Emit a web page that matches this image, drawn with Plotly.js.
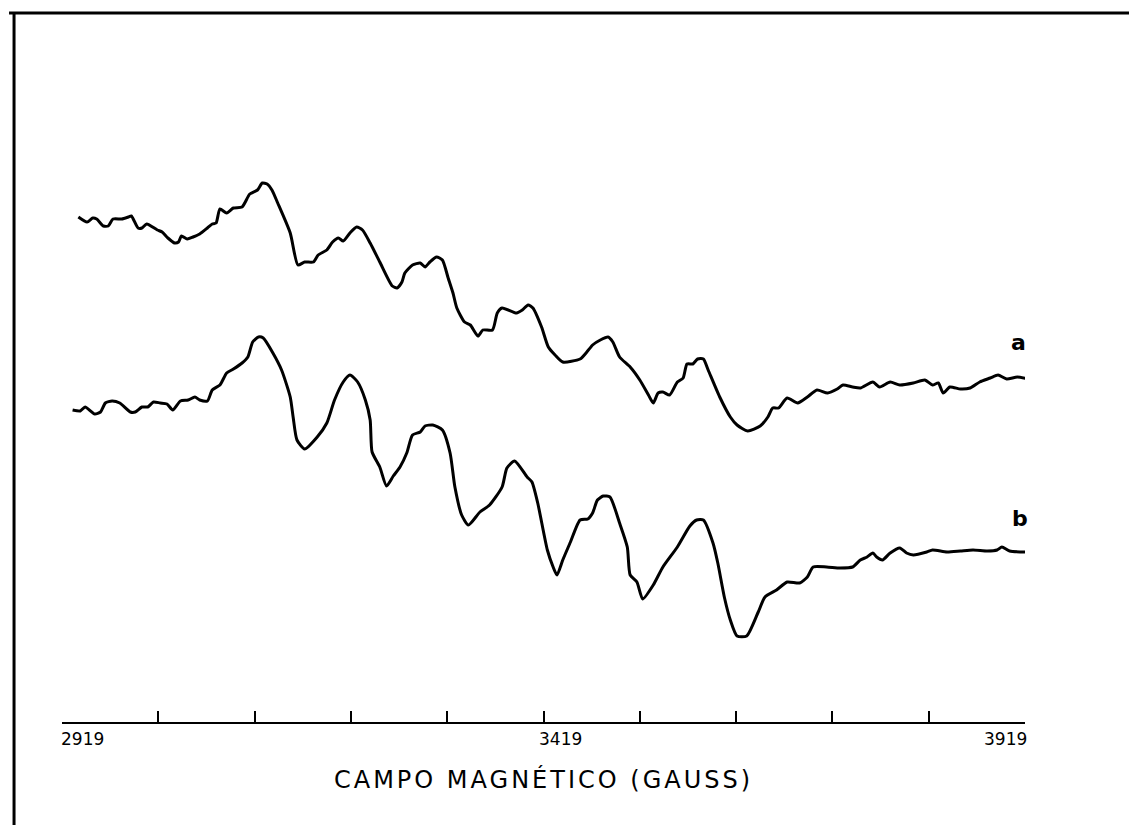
<!DOCTYPE html>
<html>
<head>
<meta charset="utf-8">
<script src="https://cdn.plot.ly/plotly-3.0.1.min.js"></script>
<style>
  html, body { margin: 0; padding: 0; background: #fff; }
  #chart { width: 1129px; height: 825px; }
  .xtitle { letter-spacing: 3px; }
</style>
</head>
<body>
<div id="chart"></div>
<script>
// Magnetic field (gauss) and first-derivative EPR signal (arbitrary units, stacked)
const fieldA = [2936,2945,2951,2955,2962,2967,2972,2981,2988,2991,2998,3002,3007,3018,3023,3029,3036,3040,3043,3049,3055,3062,3070,3075,3079,3083,3090,3097,3106,3114,3122,3127,3132,3137,3143,3156,3164,3171,3180,3185,3194,3200,3206,3211,3218,3225,3231,3239,3249,3262,3267,3272,3275,3283,3291,3296,3301,3308,3314,3320,3325,3329,3337,3343,3351,3356,3366,3371,3376,3391,3397,3403,3408,3417,3424,3431,3439,3457,3464,3470,3478,3486,3491,3498,3509,3519,3528,3533,3538,3543,3550,3558,3564,3568,3574,3579,3585,3590,3602,3613,3620,3631,3644,3652,3657,3663,3672,3683,3693,3703,3714,3724,3730,3740,3748,3761,3768,3779,3789,3803,3815,3823,3829,3834,3841,3852,3862,3872,3883,3891,3900,3911,3922];
const signalA = [503,498,502,501,494,494,501,501,503,504,492,492,496,490,488,482,477,478,484,481,483,486,492,496,497,511,507,512,513,526,530,537,536,530,517,487,455,458,458,465,470,478,482,479,487,493,490,477,458,434,432,438,447,455,457,453,458,463,460,442,427,412,398,395,384,390,390,407,412,407,410,415,412,393,373,365,358,361,368,375,380,383,378,363,353,340,325,317,327,328,325,338,342,356,356,361,361,350,323,303,295,289,294,303,312,312,322,317,323,330,327,331,335,333,332,338,333,338,335,337,340,335,337,327,333,331,332,338,342,345,341,343,341];

const fieldB = [2930,2938,2943,2953,2959,2964,2971,2979,2990,2995,3002,3008,3014,3021,3028,3034,3042,3050,3057,3062,3070,3075,3083,3090,3097,3106,3112,3117,3123,3128,3138,3147,3156,3159,3163,3171,3184,3194,3202,3211,3218,3226,3234,3239,3241,3249,3256,3263,3270,3277,3283,3291,3296,3304,3314,3322,3327,3334,3341,3353,3363,3376,3381,3389,3402,3407,3413,3423,3429,3433,3439,3447,3457,3465,3470,3475,3481,3488,3498,3506,3509,3516,3522,3533,3543,3558,3571,3578,3585,3595,3600,3607,3613,3620,3630,3642,3649,3661,3672,3685,3693,3699,3713,3727,3740,3748,3755,3761,3765,3771,3779,3789,3796,3803,3817,3823,3838,3852,3865,3880,3890,3895,3903,3919];
const signalB = [310,309,313,306,308,317,319,317,308,308,313,313,318,317,316,310,319,320,323,320,319,330,335,347,351,357,363,378,383,382,367,350,323,303,280,271,283,297,320,338,345,338,320,300,268,253,234,244,253,267,285,288,294,295,290,267,233,205,195,208,215,233,252,259,243,238,217,170,153,145,160,178,200,201,207,220,224,223,197,173,145,138,121,135,153,173,194,200,200,177,157,122,100,84,84,108,123,130,138,137,143,153,153,152,153,160,163,167,163,160,167,172,167,165,168,170,168,169,170,169,170,173,169,168];

const seriesLabels = ['a', 'b'];
const labelField = [3912, 3914];
const labelSignal = [378, 202];

const tickVals = [2919,3019,3119,3219,3319,3419,3519,3619,3719,3819,3919];
const tickLabelVals = [2919, 3419, 3919];
const tickLabelText = ['2919', '3419', '3919'];
const tickLabelAnchor = ['left', 'left', 'right'];
const tickLabelShift = [-3, -7, 4];

const lineStyle = {color: '#000', width: 3, shape: 'spline', smoothing: 0.6};

const traces = [
  {x: fieldA, y: signalA, mode: 'lines', line: lineStyle, name: 'a', hoverinfo: 'x+y'},
  {x: fieldB, y: signalB, mode: 'lines', line: lineStyle, name: 'b', hoverinfo: 'x+y'}
];

const annotations = [];
seriesLabels.forEach((t, i) => {
  annotations.push({x: labelField[i], y: labelSignal[i], xref: 'x', yref: 'y', text: t,
    showarrow: false, font: {family: 'DejaVu Sans', size: 22, color: '#000', weight: 'bold'},
    xanchor: 'center', yanchor: 'middle'});
});
tickLabelVals.forEach((v, i) => {
  annotations.push({x: v, y: 0, xref: 'x', yref: 'paper', text: tickLabelText[i],
    showarrow: false, font: {family: 'DejaVu Sans', size: 17, color: '#000'},
    xanchor: tickLabelAnchor[i], yanchor: 'top', xshift: tickLabelShift[i], yshift: -5});
});

const layout = {
  width: 1129, height: 825,
  margin: {l: 62, r: 104, t: 22, b: 103},
  paper_bgcolor: '#fff', plot_bgcolor: '#fff',
  showlegend: false,
  xaxis: {
    range: [2919, 3919], showgrid: false, zeroline: false,
    showline: true, linecolor: '#000', linewidth: 2,
    tickmode: 'array', tickvals: tickVals, showticklabels: false,
    ticks: 'inside', ticklen: 11, tickwidth: 2, tickcolor: '#000',
    title: {text: 'CAMPO MAGNÉTICO (GAUSS)', standoff: 48,
      font: {family: 'DejaVu Sans', size: 24, color: '#000'}}
  },
  yaxis: {
    range: [-2, 698], visible: false, showgrid: false, zeroline: false
  },
  annotations: annotations,
  shapes: [
    {type: 'line', xref: 'paper', yref: 'paper', x0: -0.055, x1: 1.11, y0: 1.0129, y1: 1.0129,
      line: {color: '#000', width: 3}},
    {type: 'line', xref: 'paper', yref: 'paper', x0: -0.0498, x1: -0.0498, y0: 1.0129, y1: -0.147,
      line: {color: '#000', width: 3}}
  ]
};

Plotly.newPlot('chart', traces, layout, {displayModeBar: false, staticPlot: true});
</script>
</body>
</html>
